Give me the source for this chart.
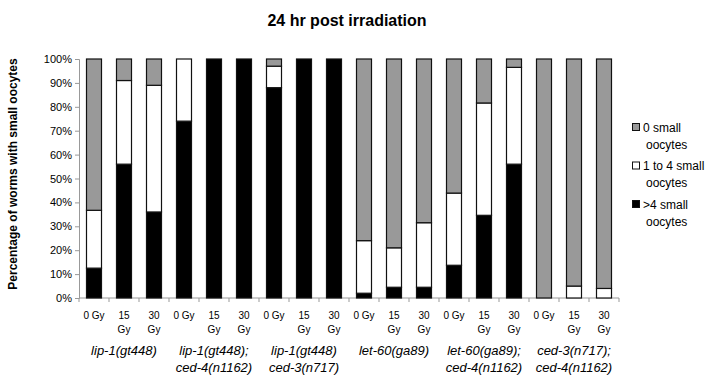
<!DOCTYPE html>
<html>
<head>
<meta charset="utf-8">
<script src="https://cdn.jsdelivr.net/npm/d3@7"></script>
<style>
  body { margin: 0; background: #fff; }
  svg { font-family: 'Liberation Sans', Arial, sans-serif; }
</style>
</head>
<body>
<div id="chart"></div>
<script>
// Genotype groups, each with three doses
const genotypes = [
  ['lip-1(gt448)'],
  ['lip-1(gt448);', 'ced-4(n1162)'],
  ['lip-1(gt448)', 'ced-3(n717)'],
  ['let-60(ga89)'],
  ['let-60(ga89);', 'ced-4(n1162)'],
  ['ced-3(n717);', 'ced-4(n1162)'],
]
const doses = [['0 Gy'], ['15', 'Gy'], ['30', 'Gy']]

// Percent of worms per bar (18 bars, in order)
const moreThan4 = [12.5, 56, 36, 74, 100, 100, 88, 100, 100, 2, 4.5, 4.5, 13.7, 34.6, 56, 0, 0, 0]
const oneTo4 = [24.2, 35, 53, 26, 0, 0, 9, 0, 0, 22, 16.5, 27, 30.2, 47, 40.5, 0, 5, 4]
const zeroSmall = [63.3, 9, 11, 0, 0, 0, 3, 0, 0, 76, 79, 68.5, 56.1, 18.4, 3.5, 100, 95, 96]

const yTicks = [0, 10, 20, 30, 40, 50, 60, 70, 80, 90, 100]

const seriesKeys = ['more', 'few', 'zero']
const colors = { more: '#000000', few: '#ffffff', zero: '#999999' }

// build table rows
const rows = []
genotypes.forEach((g, gi) => {
  doses.forEach((d, di) => {
    const i = gi * doses.length + di
    rows.push({ id: i, dose: d, more: moreThan4[i], few: oneTo4[i], zero: zeroSmall[i] })
  })
})

const width = 714,
  height = 379
const margin = { left: 79, right: 95, top: 59, bottom: 81 }

const svg = d3
  .select('#chart')
  .append('svg')
  .attr('width', width)
  .attr('height', height)

const x = d3
  .scaleBand()
  .domain(rows.map((d) => d.id))
  .range([margin.left, width - margin.right])
  .paddingInner(0.5)
  .paddingOuter(0.25)

const y = d3
  .scaleLinear()
  .domain([0, 100])
  .range([height - margin.bottom, margin.top])

// title
svg
  .append('text')
  .attr('x', 347)
  .attr('y', 26)
  .attr('text-anchor', 'middle')
  .attr('font-size', 16)
  .attr('font-weight', 'bold')
  .text('24 hr post irradiation')

// y axis
const yAxis = svg
  .append('g')
  .attr('transform', `translate(${margin.left},0)`)
  .call(
    d3
      .axisLeft(y)
      .tickValues(yTicks)
      .tickFormat((d) => d + '%')
      .tickSize(4)
      .tickPadding(3)
  )
yAxis.select('.domain').attr('stroke', '#999')
yAxis.selectAll('.tick line').attr('stroke', '#999')
yAxis.selectAll('text').attr('font-size', 11).attr('fill', '#000')

// y label
svg
  .append('text')
  .attr('transform', 'translate(17,174) rotate(-90)')
  .attr('text-anchor', 'middle')
  .attr('font-size', 12)
  .attr('font-weight', 'bold')
  .text('Percentage of worms with small oocytes')

// x axis line with ticks between bars
const x0 = margin.left,
  x1 = width - margin.right
const step = (x1 - x0) / rows.length
svg
  .append('line')
  .attr('x1', x0)
  .attr('x2', x1)
  .attr('y1', y(0))
  .attr('y2', y(0))
  .attr('stroke', '#999')
svg
  .selectAll('.xtick')
  .data(d3.range(rows.length + 1))
  .enter()
  .append('line')
  .attr('x1', (i) => x0 + i * step)
  .attr('x2', (i) => x0 + i * step)
  .attr('y1', y(0))
  .attr('y2', y(0) + 4)
  .attr('stroke', '#999')

// stacked bars
const stack = d3.stack().keys(seriesKeys)(rows)
svg
  .selectAll('.series')
  .data(stack)
  .enter()
  .append('g')
  .attr('fill', (s) => colors[s.key])
  .selectAll('rect')
  .data((s) => s.filter((d) => d[1] - d[0] > 0))
  .enter()
  .append('rect')
  .attr('x', (d) => x(d.data.id))
  .attr('y', (d) => y(d[1]))
  .attr('width', x.bandwidth())
  .attr('height', (d) => y(d[0]) - y(d[1]))
  .attr('stroke', '#111')
  .attr('stroke-width', 1.2)

// dose labels
rows.forEach((r) => {
  const t = svg
    .append('text')
    .attr('x', x(r.id) + x.bandwidth() / 2)
    .attr('y', 319)
    .attr('text-anchor', 'middle')
    .attr('font-size', 10)
  r.dose.forEach((line, li) => {
    t.append('tspan')
      .attr('x', x(r.id) + x.bandwidth() / 2)
      .attr('dy', li === 0 ? 0 : 14)
      .text(line)
  })
})

// genotype labels
genotypes.forEach((g, gi) => {
  const cx = x0 + (gi * 3 + 1.5) * step
  const t = svg
    .append('text')
    .attr('x', cx)
    .attr('y', 355)
    .attr('text-anchor', 'middle')
    .attr('font-size', 13)
    .attr('font-style', 'italic')
  g.forEach((line, li) => {
    t.append('tspan')
      .attr('x', cx)
      .attr('dy', li === 0 ? 0 : 17)
      .text(line)
  })
})

// legend
const legendItems = [
  { key: 'zero', lines: ['0 small', 'oocytes'] },
  { key: 'few', lines: ['1 to 4 small', 'oocytes'] },
  { key: 'more', lines: ['>4 small', 'oocytes'] },
]
const legend = svg
  .selectAll('.legend')
  .data(legendItems)
  .enter()
  .append('g')
  .attr('transform', (d, i) => `translate(632,${127 + i * 38.5})`)
legend
  .append('rect')
  .attr('x', 0.5)
  .attr('y', -3.5)
  .attr('width', 7)
  .attr('height', 7)
  .attr('fill', (d) => colors[d.key])
  .attr('stroke', '#111')
legend
  .append('text')
  .attr('x', 11)
  .attr('y', 4.5)
  .attr('font-size', 12)
  .selectAll('tspan')
  .data((d) => d.lines)
  .enter()
  .append('tspan')
  .attr('x', (d, i) => (i === 0 ? 11 : 14))
  .attr('dy', (d, i) => (i === 0 ? 0 : 17))
  .text((d) => d)
</script>
</body>
</html>
